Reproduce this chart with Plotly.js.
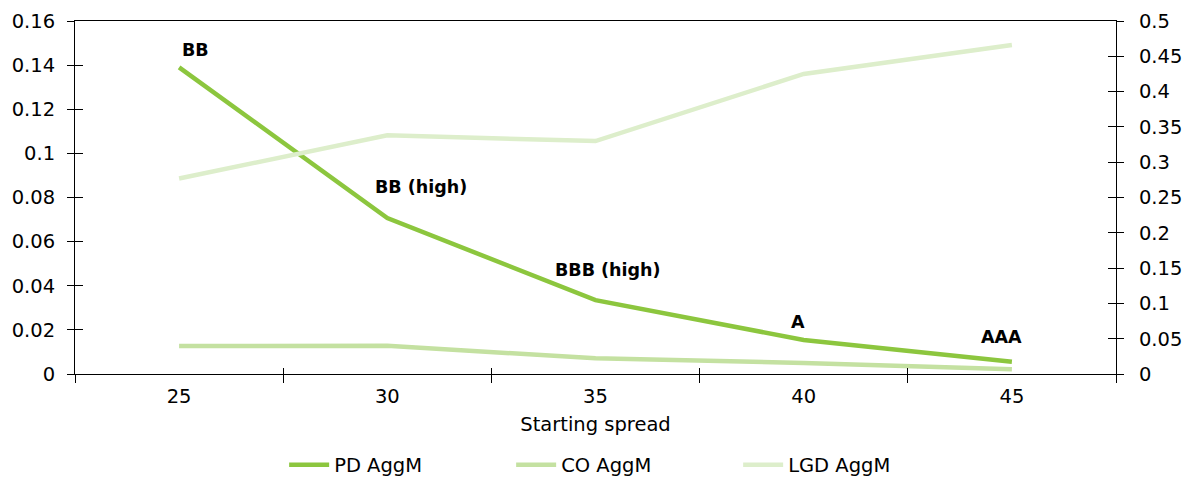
<!DOCTYPE html>
<html>
<head>
<meta charset="utf-8">
<script src="https://cdn.plot.ly/plotly-3.0.1.min.js"></script>
<style>html,body{margin:0;padding:0;background:#fff;}#chart{width:1184px;height:478px;}</style>
</head>
<body>
<div id="chart"></div>
<script>
const spreads = [25, 30, 35, 40, 45];
const pdAggM = [0.139, 0.0707, 0.0335, 0.0154, 0.0056];
const coAggM = [0.0127, 0.0128, 0.0071, 0.0050, 0.0021];
const lgdAggM = [0.277, 0.338, 0.330, 0.425, 0.466];
const ratingLabels = ['BB', 'BB (high)', 'BBB (high)', 'A', 'AAA'];
const labelX = [25.4, 30.8, 35.3, 39.86, 44.74];
const labelY = [0.1467, 0.0847, 0.0471, 0.0236, 0.0168];
const boundaries = [22.5, 27.5, 32.5, 37.5, 42.5, 47.5];
const leftTicks = [0, 0.02, 0.04, 0.06, 0.08, 0.1, 0.12, 0.14, 0.16];
const rightTicks = [0, 0.05, 0.1, 0.15, 0.2, 0.25, 0.3, 0.35, 0.4, 0.45, 0.5];

const FONT = 'Verdana, "DejaVu Sans", sans-serif';
const traces = [
  {x: spreads, y: pdAggM, name: 'PD AggM', type: 'scatter', mode: 'lines',
   line: {color: '#8cc63e', width: 4.5}, yaxis: 'y'},
  {x: spreads, y: coAggM, name: 'CO AggM', type: 'scatter', mode: 'lines',
   line: {color: '#c4e1a1', width: 4.5}, yaxis: 'y'},
  {x: spreads, y: lgdAggM, name: 'LGD AggM', type: 'scatter', mode: 'lines',
   line: {color: '#ddeecb', width: 4.5}, yaxis: 'y2'}
];
const ordered = [traces[2], traces[1], traces[0]];

const axisCommon = {showgrid: false, zeroline: false, linecolor: '#000', linewidth: 1,
  tickcolor: '#000', tickfont: {family: FONT, size: 19.5, color: '#000'}};

const layout = {
  width: 1184, height: 478,
  margin: {l: 75, r: 68, t: 21, b: 104, autoexpand: false},
  paper_bgcolor: '#fff', plot_bgcolor: '#fff',
  font: {family: FONT, color: '#000'},
  showlegend: true,
  legend: {orientation: 'h', x: 0.528, xanchor: 'center', y: -0.258, yanchor: 'middle',
    traceorder: 'reversed', font: {family: FONT, size: 19.5, color: '#000'}, itemwidth: 40,
    entrywidth: 172},
  xaxis: Object.assign({}, axisCommon, {range: [22.5, 47.5], tickmode: 'array', tickvals: spreads,
    ticktext: spreads.map(String), ticks: '', showline: true, mirror: true, ticklabelstandoff: 5,
    title: {text: 'Starting spread', font: {family: FONT, size: 19.5, color: '#000'}, standoff: 9}}),
  xaxis2: Object.assign({}, axisCommon, {overlaying: 'x', side: 'bottom', range: [22.5, 47.5],
    tickmode: 'array', tickvals: boundaries, showticklabels: false, ticks: 'outside', ticklen: 8, showline: false}),
  xaxis3: Object.assign({}, axisCommon, {overlaying: 'x', side: 'bottom', range: [22.5, 47.5],
    tickmode: 'array', tickvals: boundaries, showticklabels: false, ticks: 'inside', ticklen: 6, showline: false}),
  yaxis: Object.assign({}, axisCommon, {range: [0, 0.16], tickmode: 'array', tickvals: leftTicks,
    ticktext: leftTicks.map(String), ticks: 'outside', ticklen: 7, showline: true, ticklabelstandoff: 8}),
  yaxis2: Object.assign({}, axisCommon, {range: [0, 0.5], overlaying: 'y', side: 'right', tickmode: 'array',
    tickvals: rightTicks, ticktext: rightTicks.map(String), ticks: 'outside', ticklen: 7, showline: true,
    ticklabelstandoff: 11}),
  yaxis3: Object.assign({}, axisCommon, {range: [0, 0.16], overlaying: 'y', side: 'left', tickmode: 'array',
    tickvals: leftTicks, showticklabels: false, ticks: 'inside', ticklen: 8, showline: false}),
  yaxis4: Object.assign({}, axisCommon, {range: [0, 0.5], overlaying: 'y', side: 'right', tickmode: 'array',
    tickvals: rightTicks, showticklabels: false, ticks: 'inside', ticklen: 8, showline: false}),
  annotations: ratingLabels.map((t, i) => ({x: labelX[i], y: labelY[i], xref: 'x', yref: 'y',
    text: '<b>' + t + '</b>', showarrow: false, font: {family: FONT, size: 17.5, color: '#000'}}))
};

const dummies = [
  {x: [25], y: [0], xaxis: 'x2', yaxis: 'y3', mode: 'markers', marker: {opacity: 0}, showlegend: false, hoverinfo: 'skip'},
  {x: [25], y: [0], xaxis: 'x3', yaxis: 'y4', mode: 'markers', marker: {opacity: 0}, showlegend: false, hoverinfo: 'skip'}
];

Plotly.newPlot('chart', dummies.concat(ordered), layout, {displayModeBar: false, staticPlot: true});
</script>
</body>
</html>
